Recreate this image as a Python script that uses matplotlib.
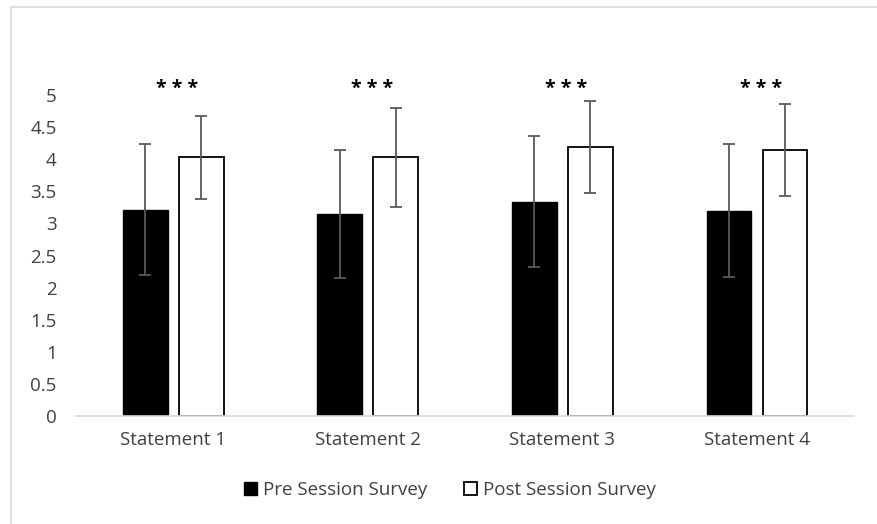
import matplotlib
matplotlib.use("Agg")
import matplotlib.pyplot as plt
import numpy as np
from matplotlib.patches import Rectangle

plt.rcParams['font.family'] = ['Open Sans', 'DejaVu Sans']

categories = ["Statement 1", "Statement 2", "Statement 3", "Statement 4"]
pre_mean = [3.21, 3.15, 3.34, 3.20]
pre_sd = [1.02, 1.00, 1.02, 1.04]
post_mean = [4.03, 4.03, 4.19, 4.14]
post_sd = [0.65, 0.77, 0.71, 0.72]
yticks = [0, 0.5, 1, 1.5, 2, 2.5, 3, 3.5, 4, 4.5, 5]
sig_labels = ["* * *", "* * *", "* * *", "* * *"]

fig = plt.figure(figsize=(8.77, 5.24), dpi=100)
ax = fig.add_axes([0.0867, 0.206, 0.8873, 0.6127])

# light frame round the chart area, like the spreadsheet export
fig.patches.append(Rectangle((11 / 877, -0.01), 1.0, 1 - 7 / 524 + 0.01,
                             transform=fig.transFigure, fill=False,
                             edgecolor='#d9d9d9', linewidth=1.2))

x = np.arange(len(categories))
w = 0.23
off = 0.144
err_kw = dict(ecolor='#595959', elinewidth=1.3, capsize=4.5, capthick=1.3)

ax.bar(x - off, pre_mean, w, color='black', edgecolor='black',
       yerr=pre_sd, error_kw=err_kw, label='Pre Session Survey', zorder=2)
ax.bar(x + off, post_mean, w, color='white', edgecolor='black', linewidth=1.3,
       yerr=post_sd, error_kw=err_kw, label='Post Session Survey', zorder=2)

for i, s in enumerate(sig_labels):
    ax.text(x[i] + 0.02, 4.93, s, ha='center', va='bottom', fontsize=14,
            fontweight='bold', color='black', clip_on=False)

ax.set_xlim(-0.5, len(categories) - 0.5)
ax.set_ylim(0, 5)
ax.set_yticks(yticks)
ax.set_yticklabels([f"{t:g}" for t in yticks])
ax.set_xticks(x)
ax.set_xticklabels(categories)
ax.tick_params(axis='both', length=0, labelsize=13.5, colors='#404040')
ax.tick_params(axis='x', pad=11)
ax.tick_params(axis='y', pad=14)

for side in ['top', 'right', 'left']:
    ax.spines[side].set_visible(False)
ax.spines['bottom'].set_color('#d9d9d9')
ax.spines['bottom'].set_linewidth(1.2)

leg = fig.legend(loc='center', bbox_to_anchor=(0.513, 0.064), ncol=2,
                 frameon=False, fontsize=13.5, handlelength=0.7,
                 handleheight=0.7, handletextpad=0.3, columnspacing=2.0)
for t in leg.get_texts():
    t.set_color('#404040')

fig.savefig("out.png", dpi=100)
